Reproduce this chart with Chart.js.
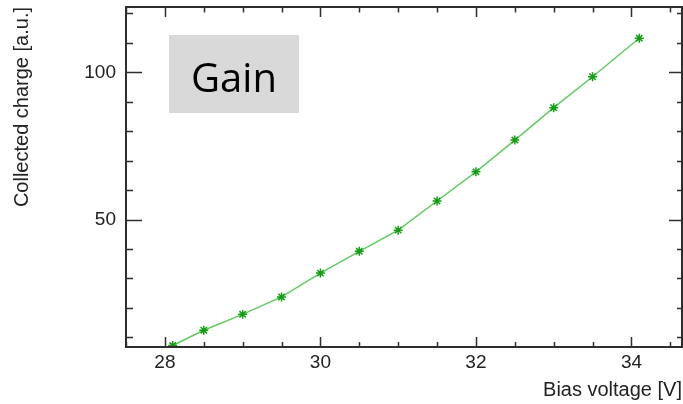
<!DOCTYPE html>
<html>
<head>
<meta charset="utf-8">
<script src="https://cdn.jsdelivr.net/npm/chart.js@4/dist/chart.umd.min.js"></script>
<style>
  body { margin: 0; background: #ffffff; }
  canvas { display: block; }
</style>
</head>
<body>
<canvas id="chart" width="683" height="404"></canvas>
<script>

// data
var biasVoltage = [28.1, 28.5, 29, 29.5, 30, 30.5, 31, 31.5, 32, 32.5, 33, 33.5, 34.1]; // x, volts
var collectedCharge = [7.2, 12.4, 17.8, 23.7, 31.8, 39.2, 46.4, 56.3, 66.2, 77.0, 88.0, 98.5, 111.6]; // y, a.u.
var xTickLabels = [28, 30, 32, 34];
var yTickLabels = [50, 100];

var points = biasVoltage.map(function (v, i) {
    return { x: v, y: collectedCharge[i] };
});

var axisColor = '#2e2e2e';

// frame + inward ticks (root style), drawn from the scales
var frameTicks = {
    id: 'frameTicks',
    afterDraw: function (chart) {
        var ctx = chart.ctx;
        var a = chart.chartArea;
        var xs = chart.scales.x;
        var ys = chart.scales.y;
        ctx.save();
        ctx.strokeStyle = axisColor;
        ctx.lineWidth = 1.5;
        ctx.beginPath();

        // x ticks, every 0.5 with major ones on the labels
        for (var v = Math.ceil(xs.min * 2) / 2; v <= xs.max; v += 0.5) {
            var px = Math.round(xs.getPixelForValue(v)) + 0.5;
            var major = xTickLabels.indexOf(v) >= 0;
            ctx.moveTo(px, a.bottom);
            ctx.lineTo(px, a.bottom - (major ? 10 : 5));
            ctx.moveTo(px, a.top);
            ctx.lineTo(px, a.top + (major ? 10 : 5.5));
        }

        // y ticks, every 10
        for (var w = Math.ceil(ys.min / 10) * 10; w <= ys.max; w += 10) {
            var py = Math.round(ys.getPixelForValue(w)) + 0.5;
            var big = yTickLabels.indexOf(w) >= 0;
            ctx.moveTo(a.left, py);
            ctx.lineTo(a.left + (big ? 16 : 7), py);
            ctx.moveTo(a.right, py);
            ctx.lineTo(a.right - (big ? 13 : 5), py);
        }
        ctx.stroke();

        ctx.lineWidth = 2;
        ctx.strokeRect(a.left, a.top, a.right - a.left, a.bottom - a.top);
        ctx.restore();
    }
};

// grey "Gain" label box
var gainBox = {
    id: 'gainBox',
    beforeDatasetsDraw: function (chart) {
        var ctx = chart.ctx;
        ctx.save();
        ctx.fillStyle = '#d9d9d9';
        ctx.fillRect(169, 35, 130, 78);
        ctx.fillStyle = '#000000';
        ctx.font = '40px "Open Sans"';
        ctx.textAlign = 'center';
        ctx.textBaseline = 'alphabetic';
        ctx.fillText('Gain', 234, 92);
        ctx.restore();
    }
};

// fixed box sizes, no label overhang padding
function fitX(scale) {
    scale.height = 57;
    scale.paddingLeft = scale.paddingRight = scale.paddingTop = scale.paddingBottom = 0;
}
function fitY(scale) {
    scale.width = 126;
    scale.paddingLeft = scale.paddingRight = scale.paddingTop = scale.paddingBottom = 0;
}

var ctx = document.getElementById('chart').getContext('2d');
var myChart = new Chart(ctx, {
    type: 'line',
    data: {
        datasets: [{
            label: 'Collected charge',
            data: points,
            borderColor: '#5fcc5f',
            borderWidth: 1.5,
            tension: 0,
            pointStyle: 'star',
            pointRadius: 4.5,
            pointBorderWidth: 1.5,
            pointBorderColor: '#129e12',
            pointBackgroundColor: '#129e12'
        }]
    },
    options: {
        responsive: false,
        devicePixelRatio: 1,
        animation: false,
        layout: { autoPadding: false, padding: { top: 7, right: 1, left: 0, bottom: 0 } },
        plugins: {
            legend: { display: false },
            tooltip: { enabled: false }
        },
        scales: {
            x: {
                type: 'linear',
                min: 27.5,
                max: 34.65,
                grid: { display: false, drawTicks: false },
                border: { display: false },
                afterBuildTicks: function (scale) {
                    scale.ticks = xTickLabels.map(function (v) { return { value: v }; });
                },
                afterFit: fitX,
                ticks: {
                    padding: 4,
                    color: '#222222',
                    maxRotation: 0,
                    font: { family: 'Liberation Sans', size: 19 }
                },
                title: {
                    display: true,
                    text: 'Bias voltage [V]',
                    align: 'end',
                    color: '#222222',
                    font: { family: 'Liberation Sans', size: 20 },
                    padding: { top: 0, bottom: 2 }
                }
            },
            y: {
                type: 'linear',
                min: 6.7,
                max: 122.2,
                grid: { display: false, drawTicks: false },
                border: { display: false },
                afterBuildTicks: function (scale) {
                    scale.ticks = yTickLabels.map(function (v) { return { value: v }; });
                },
                afterFit: fitY,
                ticks: {
                    padding: 10,
                    color: '#222222',
                    font: { family: 'Liberation Sans', size: 19 }
                },
                title: {
                    display: true,
                    text: 'Collected charge [a.u.]',
                    align: 'end',
                    color: '#222222',
                    font: { family: 'Liberation Sans', size: 20 },
                    padding: { top: 10, bottom: 0 }
                }
            }
        }
    },
    plugins: [gainBox, frameTicks]
});

</script>
</body>
</html>
